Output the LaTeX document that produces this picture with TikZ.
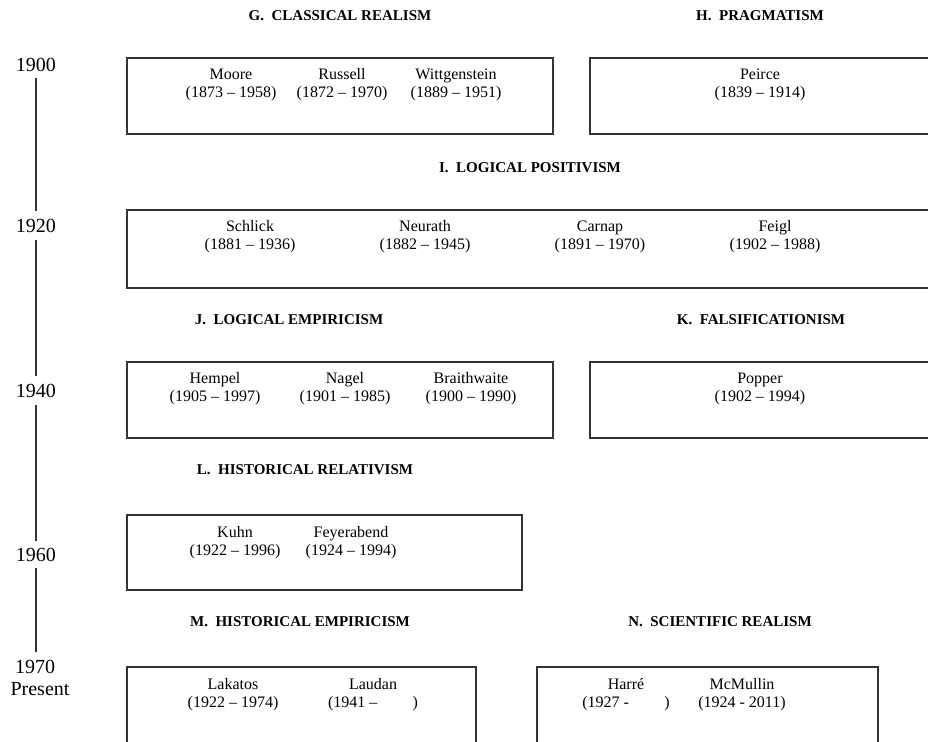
\documentclass[tikz,border=0pt]{standalone}
\usepackage{fontspec}
\setmainfont{Liberation Serif}
\newcommand{\pp}[2]{\strut #1\\\strut #2}
\begin{document}
\begin{tikzpicture}[x=1pt,y=-1pt,
  title/.style={font=\fontsize{15}{18}\selectfont\bfseries, inner sep=0pt},
  person/.style={font=\fontsize{16}{18}\selectfont, align=center, inner sep=0pt},
  year/.style={font=\fontsize{20}{23}\selectfont, inner sep=1pt},
  boxline/.style={draw=black!80, line width=1.1pt},
  tline/.style={draw=black!80, line width=1.1pt}]
\useasboundingbox (0,0) rectangle (928,741);
\clip (0,0) rectangle (928,741);
% timeline
\node[year] (y1900) at (36,65) {1900};
\node[year] (y1920) at (36,226) {1920};
\node[year] (y1940) at (36,391) {1940};
\node[year] (y1960) at (36,555) {1960};
\node[year] (y1970) at (35,667) {1970};
\node[year] (present) at (40,689) {Present};
\draw[tline, shorten <=13pt, shorten >=15pt] (y1900.center) -- (y1920.center);
\draw[tline, shorten <=14pt, shorten >=15pt] (y1920.center) -- (y1940.center);
\draw[tline, shorten <=14pt, shorten >=14pt] (y1940.center) -- (y1960.center);
\draw[tline, shorten <=13pt, shorten >=15pt] (y1960.center) -- (y1960.center |- y1970.center);
% titles
\node[title] (tG) at (340,16) {G.\ \ CLASSICAL REALISM};
\node[title] (tH) at (760,16) {H.\ \ PRAGMATISM};
\node[title] (tI) at (530,168) {I.\ \ LOGICAL POSITIVISM};
\node[title] (tJ) at (289,320) {J.\ \ LOGICAL EMPIRICISM};
\node[title] (tK) at (761,320) {K.\ \ FALSIFICATIONISM};
\node[title] (tL) at (305,470) {L.\ \ HISTORICAL RELATIVISM};
\node[title] (tM) at (300,622) {M.\ \ HISTORICAL EMPIRICISM};
\node[title] (tN) at (720,622) {N.\ \ SCIENTIFIC REALISM};
% boxes
\draw[boxline] (127,58) rectangle (553,134);
\draw[boxline] (590,58) rectangle (945,134);
\draw[boxline] (127,210) rectangle (945,288);
\draw[boxline] (127,362) rectangle (553,438);
\draw[boxline] (590,362) rectangle (945,438);
\draw[boxline] (127,515) rectangle (522,590);
\draw[boxline] (127,667) rectangle (476,760);
\draw[boxline] (537,667) rectangle (878,760);
% people
\node[person] (moore) at (231,85) {\pp{Moore}{(1873 -- 1958)}};
\node[person] (russell) at (342,85) {\pp{Russell}{(1872 -- 1970)}};
\node[person] (witt) at (456,85) {\pp{Wittgenstein}{(1889 -- 1951)}};
\node[person] (peirce) at (760,85) {\pp{Peirce}{(1839 -- 1914)}};
\node[person] (schlick) at (250,237) {\pp{Schlick}{(1881 -- 1936)}};
\node[person] (neurath) at (425,237) {\pp{Neurath}{(1882 -- 1945)}};
\node[person] (carnap) at (600,237) {\pp{Carnap}{(1891 -- 1970)}};
\node[person] (feigl) at (775,237) {\pp{Feigl}{(1902 -- 1988)}};
\node[person] (hempel) at (215,389) {\pp{Hempel}{(1905 -- 1997)}};
\node[person] (nagel) at (345,389) {\pp{Nagel}{(1901 -- 1985)}};
\node[person] (braith) at (471,389) {\pp{Braithwaite}{(1900 -- 1990)}};
\node[person] (popper) at (760,389) {\pp{Popper}{(1902 -- 1994)}};
\node[person] (kuhn) at (235,543) {\pp{Kuhn}{(1922 -- 1996)}};
\node[person] (feyer) at (351,543) {\pp{Feyerabend}{(1924 -- 1994)}};
\node[person] (lakatos) at (233,695) {\pp{Lakatos}{(1922 -- 1974)}};
\node[person] (laudan) at (373,695) {\pp{Laudan}{(1941 --\hspace{2.2em})}};
\node[person] (harre) at (626,695) {\pp{Harré}{(1927 -\hspace{2.2em})}};
\node[person] (mcmullin) at (742,695) {\pp{McMullin}{(1924 - 2011)}};
\end{tikzpicture}
\end{document}
